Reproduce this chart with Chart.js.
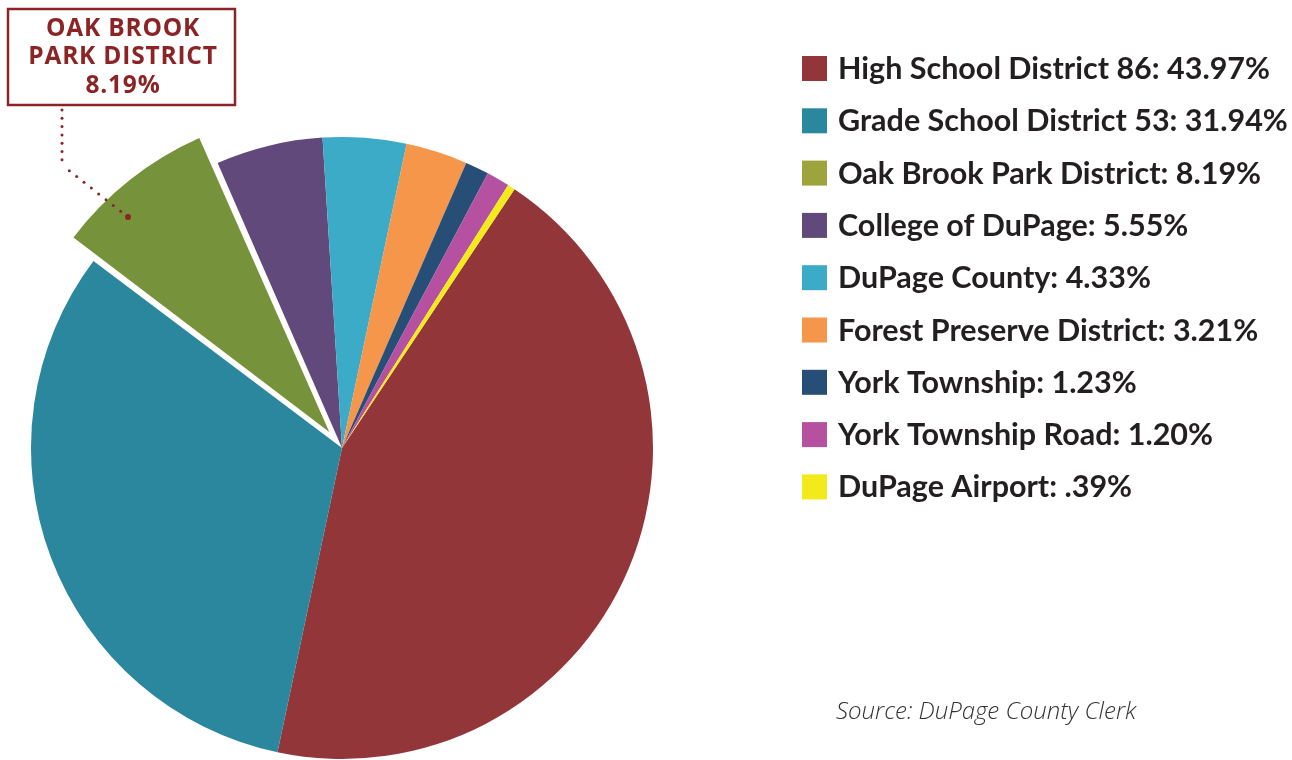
<!DOCTYPE html>
<html>
<head>
<meta charset="utf-8">
<script src="https://cdn.jsdelivr.net/npm/chart.js@4"></script>
<style>
  html, body { margin: 0; padding: 0; background: #fff; overflow: hidden; }
  canvas { display: block; }
</style>
</head>
<body>
<canvas id="taxChart" width="1292" height="760"></canvas>
<script>
// share of property tax bill, percent
const categories = [
  "High School District 86",
  "Grade School District 53",
  "Oak Brook Park District",
  "College of DuPage",
  "DuPage County",
  "Forest Preserve District",
  "York Township",
  "York Township Road",
  "DuPage Airport"
];
const shares = [43.97, 31.94, 8.19, 5.55, 4.33, 3.21, 1.23, 1.20, 0.39];

const sliceColors = ["#93363A", "#2B879D", "#76933B", "#614A7B", "#3CABC7", "#F6964A", "#264E76", "#B650A0", "#F2EA1A"];
const legendColors = ["#93363A", "#2B879D", "#9DA43B", "#614A7B", "#3CABC7", "#F6964A", "#264E76", "#B650A0", "#F2EA1A"];
// chart.js v4 scales the arc offset down internally, hence the big number
const sliceOffsets = [0, 0, 82, 0, 0, 0, 0, 0, 0];

function pct(v) {
  let s = v.toFixed(2);
  if (s.startsWith("0")) s = s.slice(1);
  return s + "%";
}

// legend, callout box and source line
const extras = {
  id: "extras",
  afterDraw(chart) {
    const ctx = chart.ctx;
    ctx.save();

    // legend
    ctx.font = "bold 30.5px Lato";
    ctx.textBaseline = "alphabetic";
    ctx.textAlign = "left";
    categories.forEach((name, i) => {
      const cy = 68 + i * 52.3;
      ctx.fillStyle = legendColors[i];
      ctx.fillRect(802, cy - 12, 25, 25);
      ctx.fillStyle = "#231F20";
      ctx.fillText(name + ": " + pct(shares[i]), 838, cy + 11);
    });

    // callout
    const dark = "#8B2525";
    ctx.strokeStyle = dark;
    ctx.lineWidth = 2.5;
    ctx.strokeRect(8, 9, 227, 96);
    ctx.fillStyle = dark;
    ctx.font = "bold 24.5px 'Open Sans'";
    ctx.letterSpacing = "0.8px";
    ctx.textAlign = "center";
    ctx.textBaseline = "middle";
    ctx.fillText("OAK BROOK", 123, 29);
    ctx.fillText("PARK DISTRICT", 123, 57);
    ctx.fillText(pct(shares[2]), 123, 86);
    ctx.letterSpacing = "0px";

    // dotted leader
    for (let y = 110; y <= 165; y += 8.3) {
      ctx.beginPath(); ctx.arc(62, y, 1.5, 0, Math.PI * 2); ctx.fill();
    }
    const x0 = 62, y0 = 165, x1 = 128, y1 = 217;
    const steps = 9;
    for (let k = 1; k < steps; k++) {
      const t = k / steps;
      ctx.beginPath(); ctx.arc(x0 + (x1 - x0) * t, y0 + (y1 - y0) * t, 1.5, 0, Math.PI * 2); ctx.fill();
    }
    ctx.beginPath(); ctx.arc(x1, y1, 3, 0, Math.PI * 2); ctx.fill();

    // source
    ctx.fillStyle = "#333333";
    ctx.font = "italic 300 24px 'Open Sans'";
    ctx.textAlign = "left";
    ctx.textBaseline = "alphabetic";
    ctx.fillText("Source: DuPage County Clerk", 836, 719);

    ctx.restore();
  }
};

new Chart(document.getElementById("taxChart"), {
  type: "pie",
  data: {
    labels: categories,
    datasets: [{
      data: shares,
      backgroundColor: sliceColors,
      borderWidth: 0,
      offset: sliceOffsets,
      hoverOffset: 0,
      radius: 311
    }]
  },
  options: {
    responsive: false,
    animation: false,
    events: [],
    rotation: 33.7,
    layout: { padding: { left: 0, right: 608, top: 136, bottom: 0 } },
    plugins: {
      legend: { display: false },
      tooltip: { enabled: false }
    }
  },
  plugins: [extras]
});
</script>
</body>
</html>
